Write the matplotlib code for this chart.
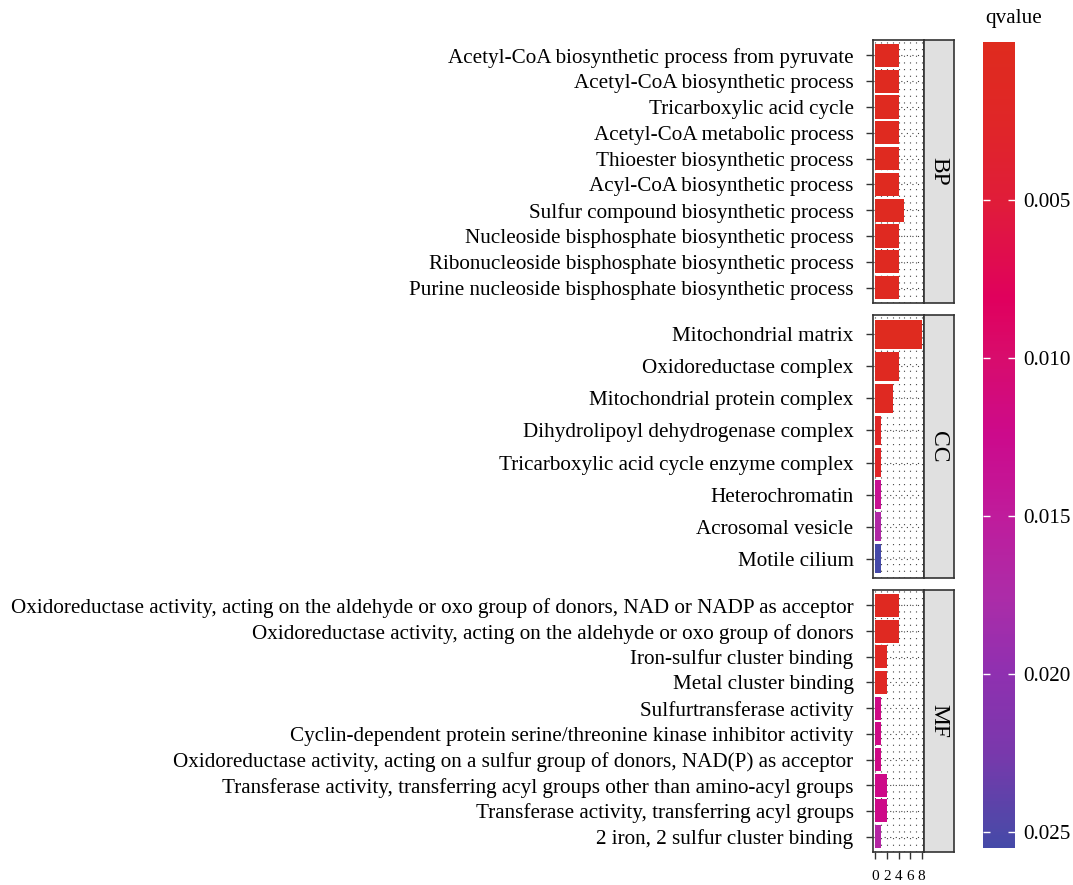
import matplotlib
matplotlib.use("Agg")
import matplotlib.pyplot as plt
import numpy as np
from matplotlib.colors import LinearSegmentedColormap, Normalize
from matplotlib.cm import ScalarMappable

plt.rcParams['font.family'] = ['Liberation Serif', 'DejaVu Serif']

# ---- data (top to bottom in each panel) ----
bp_terms = [
    "Acetyl-CoA biosynthetic process from pyruvate",
    "Acetyl-CoA biosynthetic process",
    "Tricarboxylic acid cycle",
    "Acetyl-CoA metabolic process",
    "Thioester biosynthetic process",
    "Acyl-CoA biosynthetic process",
    "Sulfur compound biosynthetic process",
    "Nucleoside bisphosphate biosynthetic process",
    "Ribonucleoside bisphosphate biosynthetic process",
    "Purine nucleoside bisphosphate biosynthetic process",
]
bp_count = [4, 4, 4, 4, 4, 4, 5, 4, 4, 4]
bp_q = [0.0004, 0.0004, 0.0005, 0.0005, 0.0006, 0.0006, 0.0007, 0.0008, 0.0008, 0.0008]

cc_terms = [
    "Mitochondrial matrix",
    "Oxidoreductase complex",
    "Mitochondrial protein complex",
    "Dihydrolipoyl dehydrogenase complex",
    "Tricarboxylic acid cycle enzyme complex",
    "Heterochromatin",
    "Acrosomal vesicle",
    "Motile cilium",
]
cc_count = [8, 4, 3, 1, 1, 1, 1, 1]
cc_q = [0.0002, 0.0008, 0.0010, 0.0022, 0.0025, 0.0135, 0.0170, 0.0255]

mf_terms = [
    "Oxidoreductase activity, acting on the aldehyde or oxo group of donors, NAD or NADP as acceptor",
    "Oxidoreductase activity, acting on the aldehyde or oxo group of donors",
    "Iron-sulfur cluster binding",
    "Metal cluster binding",
    "Sulfurtransferase activity",
    "Cyclin-dependent protein serine/threonine kinase inhibitor activity",
    "Oxidoreductase activity, acting on a sulfur group of donors, NAD(P) as acceptor",
    "Transferase activity, transferring acyl groups other than amino-acyl groups",
    "Transferase activity, transferring acyl groups",
    "2 iron, 2 sulfur cluster binding",
]
mf_count = [4, 4, 2, 2, 1, 1, 1, 2, 2, 1]
mf_q = [0.0008, 0.0010, 0.0015, 0.0015, 0.0120, 0.0120, 0.0120, 0.0122, 0.0122, 0.0165]

q_min, q_max = 0.0, 0.0255

# colours sampled along the legend bar
cmap = LinearSegmentedColormap.from_list("qv", [
    (0.00, "#DF2B1E"), (0.10, "#E02628"), (0.20, "#E01C3A"), (0.32, "#E0005E"),
    (0.39, "#D80C6C"), (0.49, "#CC0A8C"), (0.59, "#BF1C9C"), (0.69, "#AC2CA8"),
    (0.78, "#9030B0"), (0.88, "#7A38AC"), (0.98, "#4E48A8"), (1.00, "#4549A8"),
])
norm = Normalize(q_min, q_max)

fig = plt.figure(figsize=(10.73, 8.85), dpi=100)

W, H = 1073, 885
def box(x0, y0, x1, y1):
    return [x0 / W, 1 - y1 / H, (x1 - x0) / W, (y1 - y0) / H]

panels = [
    ("BP", bp_terms, bp_count, bp_q, 40, 303),
    ("CC", cc_terms, cc_count, cc_q, 315, 578),
    ("MF", mf_terms, mf_count, mf_q, 590, 852),
]

for i, (name, terms, counts, qs, top, bottom) in enumerate(panels):
    ax = fig.add_axes(box(873, top, 924, bottom))
    n = len(terms)
    y = np.arange(n)
    ax.barh(y, counts, height=0.9, color=cmap(norm(np.array(qs))), zorder=2)
    ax.set_ylim(n - 0.4, -0.6)
    ax.set_xlim(-0.4, 8.4)
    ax.set_yticks(y)
    ax.set_yticklabels(terms, fontsize=15.2)
    ax.set_xticks([0, 2, 4, 6, 8])
    ax.set_xticks([1, 3, 5, 7], minor=True)
    ax.grid(which='both', axis='x', linestyle=(0, (1, 5)), color='#444444', lw=0.8, zorder=0)
    ax.grid(which='major', axis='y', linestyle=(0, (1, 4)), color='#444444', lw=0.8, zorder=0)
    ax.set_axisbelow(True)
    ax.tick_params(axis='y', length=5, width=1, color='#333333', pad=9)
    ax.tick_params(axis='x', which='minor', length=0)
    if i < 2:
        ax.tick_params(axis='x', which='major', length=0, labelbottom=False)
    else:
        ax.tick_params(axis='x', which='major', length=5, width=1, color='#333333',
                       labelsize=11, pad=8)
    for s in ax.spines.values():
        s.set_color('#333333')
        s.set_linewidth(1.2)

    sx = fig.add_axes(box(924, top, 954, bottom))
    sx.set_facecolor('#E0E0E0')
    sx.set_xticks([])
    sx.set_yticks([])
    for s in sx.spines.values():
        s.set_color('#333333')
        s.set_linewidth(1.2)
    sx.text(0.5, 0.5, name, rotation=-90, ha='center', va='center', fontsize=17,
            transform=sx.transAxes)

cax = fig.add_axes(box(983, 42, 1015, 848))
cb = fig.colorbar(ScalarMappable(norm=norm, cmap=cmap), cax=cax)
cb.outline.set_visible(False)
cax.invert_yaxis()
cb.set_ticks([0.005, 0.010, 0.015, 0.020, 0.025])
cb.set_ticklabels(["0.005", "0.010", "0.015", "0.020", "0.025"])
cax.tick_params(axis='y', which='both', left=True, right=True, labelleft=False,
                labelright=True, direction='in', color='white', length=5, width=1,
                labelsize=15.2, pad=6)
cax.minorticks_off()
fig.text(985 / W, 1 - 18 / H, "qvalue", fontsize=15.2, ha='left', va='center')

fig.savefig("out.png", dpi=100)
